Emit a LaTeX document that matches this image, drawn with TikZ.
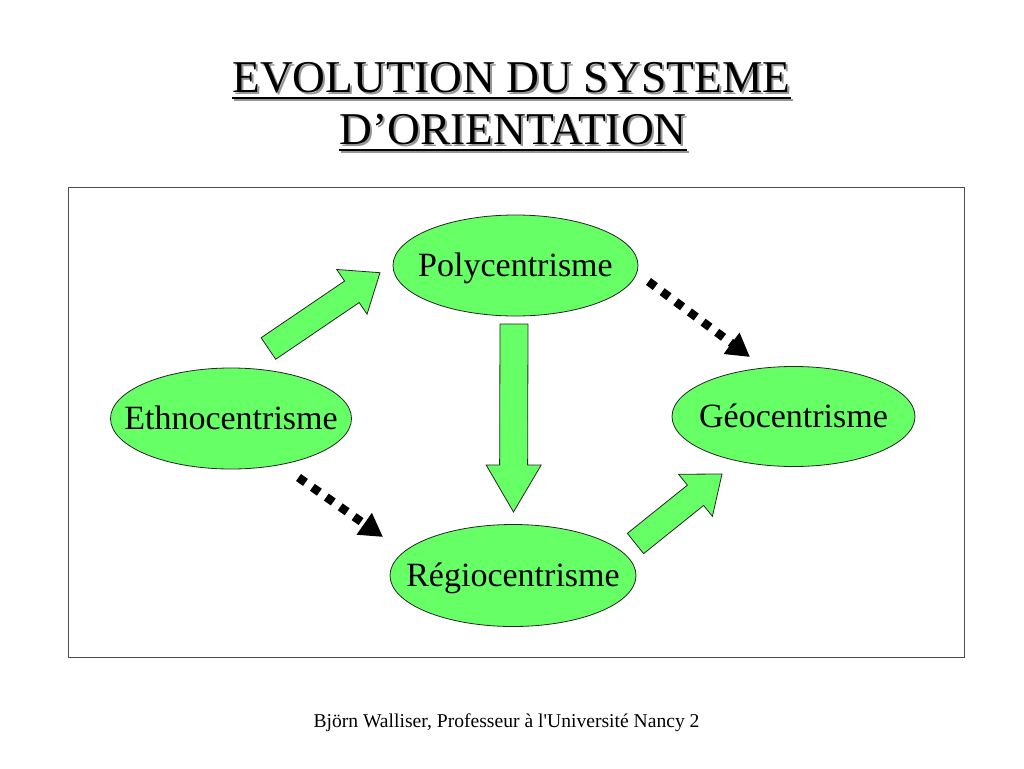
\documentclass[tikz,border=0pt]{standalone}
\usepackage{fontspec}
\setmainfont{Liberation Serif}
\newfontfamily\footfont[Ligatures=ResetAll]{Liberation Serif}
\usetikzlibrary{shapes.geometric,arrows.meta,calc}
\definecolor{nodegreen}{RGB}{102,255,102}
\definecolor{shadowgray}{RGB}{150,150,150}
\newcommand{\blockarrow}[5]{%
  \path ($(#2)!#5!(#1)$) coordinate (bah);
  \draw[fatarrow] ($(#1)!#3!90:(#2)$) -- ($(bah)!#3!90:(#2)$) -- ($(bah)!#4!90:(#2)$) -- (#2)
     -- ($(bah)!#4!-90:(#2)$) -- ($(bah)!#3!-90:(#2)$) -- ($(#1)!#3!-90:(#2)$) -- cycle;}
\newcommand{\zw}[1]{\makebox[0pt][c]{\raisebox{-10.5pt}[0pt][0pt]{#1}}}
\begin{document}
\begin{tikzpicture}[x=1pt,y=-1pt,
  stage/.style={ellipse,draw=black!85,line width=0.8pt,fill=nodegreen,inner sep=0pt,
    font=\fontsize{34}{40}\selectfont},
  fatarrow/.style={draw=black!85,line width=0.8pt,fill=nodegreen,line join=miter},
  dotarrow/.style={line width=8.5pt,dash pattern=on 8.5pt off 8.5pt,line cap=butt,
    -{Triangle[length=23pt,width=25pt]}},
  titletext/.style={anchor=base,inner sep=0pt,font=\fontsize{45.5}{52}\selectfont}]
\useasboundingbox[fill=white] (0,0) rectangle (1024,768);
% title with shadow
\node[titletext,text=shadowgray] (t1s) at (513.5,94) {EVOLUTION DU SYSTEME};
\node[titletext,text=shadowgray] (t2s) at (515,146) {D’ORIENTATION};
\draw[shadowgray,line width=2.5pt] ($(t1s.base west)+(0,6)$) -- ($(t1s.base east)+(0,6)$);
\draw[shadowgray,line width=2.5pt] ($(t2s.base west)+(0,6)$) -- ($(t2s.base east)+(0,6)$);
\node[titletext] (t1) at (511.5,92) {EVOLUTION DU SYSTEME};
\node[titletext] (t2) at (513,144) {D’ORIENTATION};
\draw[line width=2.5pt] ($(t1.base west)+(0,6)$) -- ($(t1.base east)+(0,6)$);
\draw[line width=2.5pt] ($(t2.base west)+(0,6)$) -- ($(t2.base east)+(0,6)$);
% frame
\draw[black!70,line width=0.8pt] (68,187) rectangle (964,657);
% nodes
\node[stage,minimum width=245pt,minimum height=101pt] (poly) at (515.5,265.5) {\zw{Polycentrisme}};
\node[stage,minimum width=241pt,minimum height=101pt] (ethno) at (231,418.5) {\zw{Ethnocentrisme}};
\node[stage,minimum width=243pt,minimum height=100pt] (geo) at (793.5,416.5) {\zw{Géocentrisme}};
\node[stage,minimum width=246pt,minimum height=102pt] (regio) at (513,575.5) {\zw{Régiocentrisme}};
% block arrows
\coordinate (a1s) at (268.4,348.5);
\coordinate (a1e) at (380,272.7);
\coordinate (a2s) at (514,324);
\coordinate (a2e) at (513.5,512);
\coordinate (a3s) at (635.5,543.5);
\coordinate (a3e) at (722,474);
\blockarrow{a1s}{a1e}{13pt}{27pt}{34pt}
\blockarrow{a2s}{a2e}{14pt}{27.5pt}{47pt}
\blockarrow{a3s}{a3e}{13pt}{27pt}{34pt}
% dotted arrows
\coordinate (d1s) at (648.5,281.5);
\coordinate (d1e) at (750,357);
\coordinate (d2s) at (298.5,477.5);
\coordinate (d2e) at (383,537);
\draw[dotarrow] (d1s) -- (d1e);
\draw[dotarrow] (d2s) -- (d2e);
% footer
\node[inner sep=0pt,anchor=base,font=\footfont\fontsize{19.6}{23}\selectfont] (foot) at (506.5,727) {Björn Walliser, Professeur à l'Université Nancy 2};
\end{tikzpicture}
\end{document}
